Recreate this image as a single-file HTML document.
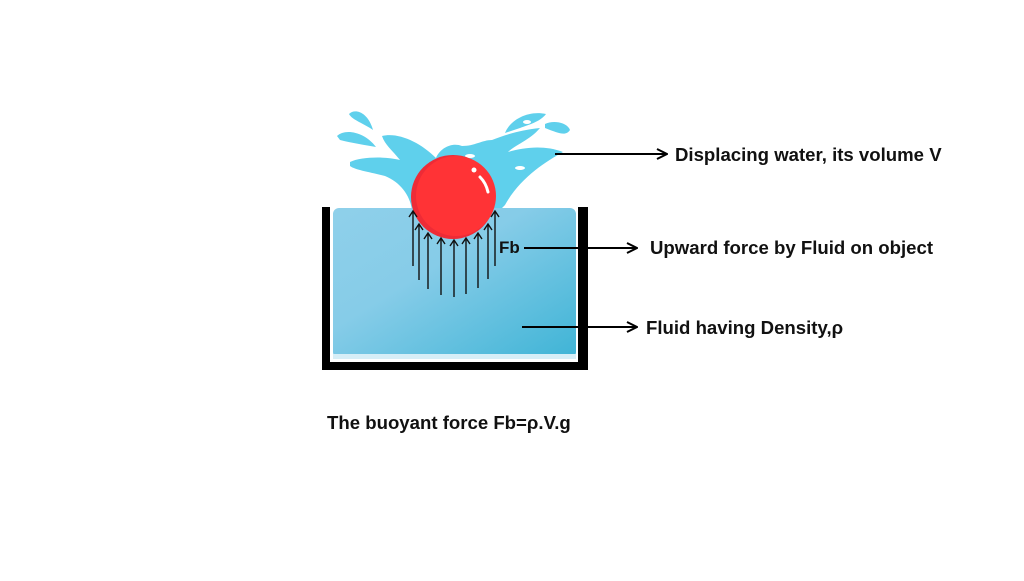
<!DOCTYPE html>
<html><head><style>
body{margin:0;width:1024px;height:576px;background:#fff;overflow:hidden}
svg text{font-family:"Liberation Sans",sans-serif;font-weight:bold;font-size:18.6px;fill:#111}
</style></head><body>
<svg width="1024" height="576" viewBox="0 0 1024 576">
<defs>
<linearGradient id="w" x1="0" y1="0" x2="1" y2="1">
<stop offset="0" stop-color="#8fd0ea"/><stop offset="0.4" stop-color="#86cce8"/><stop offset="1" stop-color="#3fb4d6"/></linearGradient>
<marker id="ah" markerWidth="12" markerHeight="12" refX="11" refY="6" orient="auto" markerUnits="userSpaceOnUse">
<path d="M1,1 L11,6 L1,11" fill="none" stroke="#000" stroke-width="2"/></marker>
</defs>
<g fill="#5fd0ec">
<path d="M350,162 C360,157 385,156 400,160 C392,150 385,145 382,136 C398,132 420,142 436,158 C440,148 452,142 462,146 C475,146 482,140 492,140 C505,135 520,130 540,128 C530,140 515,145 508,152 C525,147 545,145 563,152 C545,162 520,178 505,205 L500,210 L412,210 C410,195 400,182 385,176 C370,172 355,170 350,166 Z"/>
<path d="M337,136 C345,128 365,132 376,147 C365,145 352,143 340,140 Z"/>
<path d="M349,114 C355,108 368,112 373,130 C365,124 352,120 349,114 Z"/>
<path d="M505,133 C510,120 528,110 546,114 C540,122 528,125 520,128 Z"/>
<path d="M545,124 C553,120 567,122 570,130 C566,136 560,134 545,128 Z"/>
</g>
<g fill="#fff"><ellipse cx="527" cy="122" rx="4" ry="2"/><ellipse cx="520" cy="168" rx="5" ry="2"/><ellipse cx="470" cy="156" rx="5" ry="2"/></g>
<rect x="333" y="208" width="243" height="150" rx="6" fill="url(#w)"/>
<rect x="333" y="354" width="243" height="5" fill="#d6eef7"/>
<rect x="322" y="207" width="8" height="163" fill="#000"/>
<rect x="578" y="207" width="10" height="163" fill="#000"/>
<rect x="327" y="362" width="261" height="8" fill="#000"/>
<circle cx="453" cy="197" r="42" fill="#ee2b36"/>
<circle cx="456" cy="196" r="40" fill="#ff3336"/>
<path d="M480,177 Q486,183 488,192" stroke="#fff" stroke-width="3" fill="none" stroke-linecap="round"/>
<circle cx="474" cy="170" r="2.5" fill="#fff"/>
<g stroke="#111" stroke-width="1.4" fill="none">
<path d="M413,266V211M409,217L413,211L417,217"/>
<path d="M419,280V224M415,230L419,224L423,230"/>
<path d="M428,289V233M424,239L428,233L432,239"/>
<path d="M441,295V238M437,244L441,238L445,244"/>
<path d="M454,297V240M450,246L454,240L458,246"/>
<path d="M466,294V238M462,244L466,238L470,244"/>
<path d="M478,288V233M474,239L478,233L482,239"/>
<path d="M488,279V224M484,230L488,224L492,230"/>
<path d="M495,266V211M491,217L495,211L499,217"/>
</g>
<text x="499" y="253" style="font-size:17px">Fb</text>
<g stroke="#000" stroke-width="2">
<line x1="555" y1="154" x2="667" y2="154" marker-end="url(#ah)"/>
<line x1="524" y1="248" x2="637" y2="248" marker-end="url(#ah)"/>
<line x1="522" y1="327" x2="637" y2="327" marker-end="url(#ah)"/>
</g>
<text x="675" y="161">Displacing water, its volume V</text>
<text x="650" y="254">Upward force by Fluid on object</text>
<text x="646" y="334">Fluid having Density,ρ</text>
<text x="327" y="429">The buoyant force Fb=ρ.V.g</text>
</svg>
</body></html>
